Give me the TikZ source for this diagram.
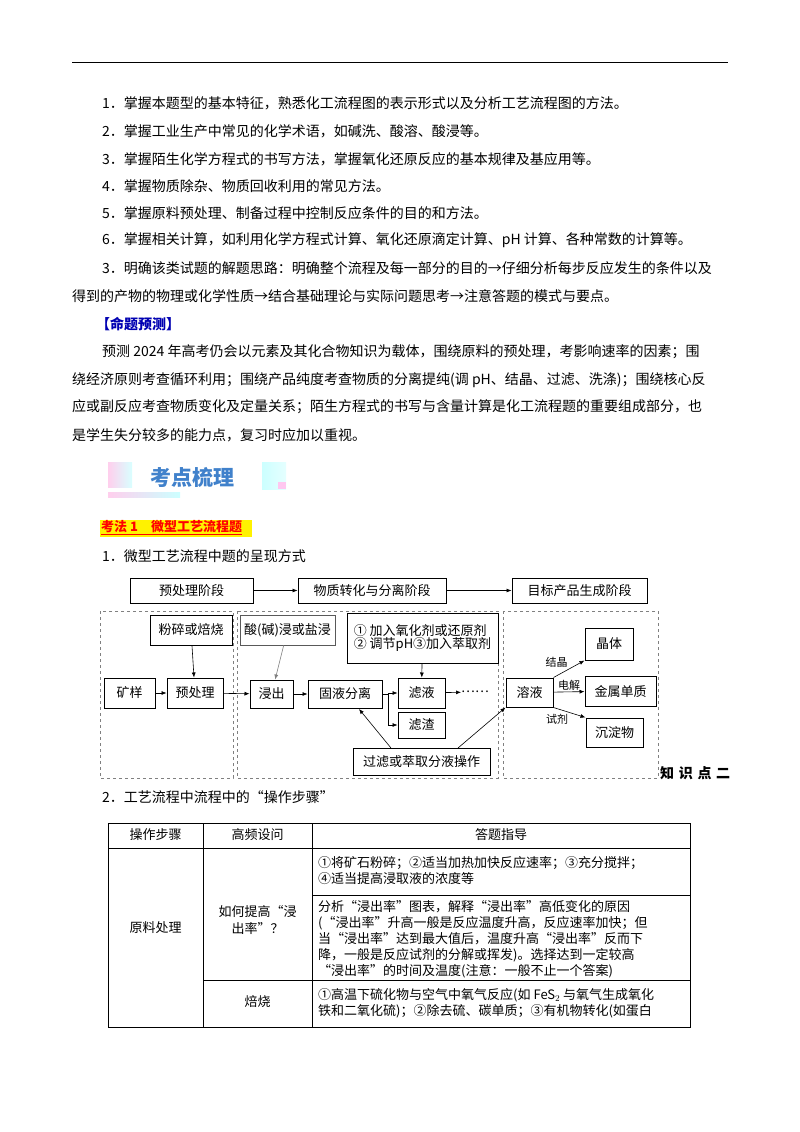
\documentclass[tikz,border=0pt]{standalone}
\usepackage{fontspec}
\setmainfont{Noto Sans CJK SC}
\usetikzlibrary{arrows.meta,calc}
\begin{document}
\begin{tikzpicture}[x=1pt,y=-1pt,
  txt/.style={anchor=west,inner sep=0,font=\fontsize{14}{14}\selectfont},
  bx/.style={draw,line width=1pt,inner sep=0,font=\fontsize{13}{13}\selectfont},
  dbox/.style={draw=gray,dashed,line width=0.9pt},
  arr/.style={-{Latex[length=5pt,width=4pt]},line width=0.6pt},
  cell/.style={anchor=west,inner sep=0,font=\fontsize{13}{16}\selectfont,align=left}]
\useasboundingbox (0,0) rectangle (800,1132);
\fill[white] (0,0) rectangle (800,1132);
\draw[line width=1pt] (72,63) -- (728,63);
\node[txt] (l1) at (102,103) {1．掌握本题型的基本特征，熟悉化工流程图的表示形式以及分析工艺流程图的方法。};
\node[txt] (l2) at (102,131) {2．掌握工业生产中常见的化学术语，如碱洗、酸溶、酸浸等。};
\node[txt] (l3) at (102,159) {3．掌握陌生化学方程式的书写方法，掌握氧化还原反应的基本规律及基应用等。};
\node[txt] (l4) at (102,186) {4．掌握物质除杂、物质回收利用的常见方法。};
\node[txt] (l5) at (102,213) {5．掌握原料预处理、制备过程中控制反应条件的目的和方法。};
\node[txt] (l6) at (102,240) {6．掌握相关计算，如利用化学方程式计算、氧化还原滴定计算、pH 计算、各种常数的计算等。};
\node[txt] (l7) at (102,268) {3．明确该类试题的解题思路：明确整个流程及每一部分的目的→仔细分析每步反应发生的条件以及};
\node[txt] (l8) at (72,296) {得到的产物的物理或化学性质→结合基础理论与实际问题思考→注意答题的模式与要点。};
\node[txt,text=blue!70!black,font=\fontsize{14}{14}\selectfont\bfseries] (p0) at (96,324) {【命题预测】};
\node[txt] (p1) at (102,352) {预测 2024 年高考仍会以元素及其化合物知识为载体，围绕原料的预处理，考影响速率的因素；围};
\node[txt] (p2) at (72,380) {绕经济原则考查循环利用；围绕产品纯度考查物质的分离提纯(调 pH、结晶、过滤、洗涤)；围绕核心反};
\node[txt] (p3) at (72,407) {应或副反应考查物质变化及定量关系；陌生方程式的书写与含量计算是化工流程题的重要组成部分，也};
\node[txt] (p4) at (72,435) {是学生失分较多的能力点，复习时应加以重视。};
% banner
\shade[left color=pink!70!magenta!40,right color=cyan!15] (108,462) rectangle (132,487);
\shade[left color=pink!70!magenta!40,right color=cyan!20] (108,492) rectangle (180,497);
\shade[left color=cyan!20,right color=cyan!10] (262,462) rectangle (286,489);
\fill[pink!60!magenta!40] (278,482) rectangle (286,489);
\node[txt,text=cyan!50!blue!80,font=\fontsize{21}{21}\selectfont\bfseries] (ban) at (150,477) {考点梳理};
\fill[yellow] (100,520) rectangle (252,537);
\node[txt,text=red,font=\fontsize{13}{13}\selectfont\bfseries] (kf) at (101,528) {\underline{考法 1\quad 微型工艺流程题}};
\node[txt] (s1) at (102,556) {1．微型工艺流程中题的呈现方式};
% flowchart
\node[bx,minimum width=123,minimum height=25] (a1) at (191.5,590.5) {预处理阶段};
\node[bx,minimum width=148,minimum height=25] (a2) at (372,590.5) {物质转化与分离阶段};
\node[bx,minimum width=135,minimum height=25] (a3) at (579.5,590.5) {目标产品生成阶段};
\draw[arr] (a1) -- (a2); \draw[arr] (a2) -- (a3);
\draw[dbox] (100,611) rectangle (233,778);
\draw[dbox] (237,611) rectangle (498,778);
\draw[dbox] (503,611) rectangle (658,778);
\node[bx,minimum width=82,minimum height=30] (b1) at (191,630) {粉碎或焙烧};
\node[bx,minimum width=51,minimum height=30] (b2) at (129.5,693) {矿样};
\node[bx,minimum width=56,minimum height=30] (b3) at (195,693) {预处理};
\node[bx,line width=0.6pt,draw=gray!70!black,minimum width=95,minimum height=30] (c1) at (287.5,630) {酸(碱)浸或盐浸};
\node[bx,minimum width=151,minimum height=50,align=left] (c2) at (422.5,638) {① 加入氧化剂或还原剂\\② 调节pH③加入萃取剂};
\node[bx,minimum width=43,minimum height=28] (c3) at (271.5,694) {浸出};
\node[bx,minimum width=74,minimum height=28] (c4) at (345,694) {固液分离};
\node[bx,minimum width=47,minimum height=30] (c5) at (421.5,693) {滤液};
\node[bx,minimum width=47,minimum height=26] (c6) at (421.5,725) {滤渣};
\node[inner sep=0,font=\fontsize{13}{13}\selectfont] (dots) at (475,692) {……};
\node[bx,minimum width=137,minimum height=27] (c7) at (421.5,761.5) {过滤或萃取分液操作};
\node[bx,minimum width=47,minimum height=29] (d1) at (529.5,692.5) {溶液};
\node[bx,minimum width=48,minimum height=32] (d2) at (609,644) {晶体};
\node[bx,minimum width=71,minimum height=30] (d3) at (620.5,691) {金属单质};
\node[bx,minimum width=57,minimum height=29] (d4) at (614.5,732.5) {沉淀物};
\node[anchor=west,inner sep=0,font=\fontsize{14}{14}\selectfont\bfseries] (zs) at (660,773) {知\,\,识\,\,点\,\,二};
\draw[arr] (b1) -- (b3);
\draw[arr] (b2) -- (b3);
\draw[arr] (b3) -- (c3);
\draw[arr,draw=gray] (c1) -- (c3);
\draw[arr] (c3) -- (c4);
\draw[arr] (c2) -- (c5);
\coordinate (br) at (388,694);
\draw[line width=0.6pt] (c4) -- (br) -- (388,725);
\draw[arr] (388,693) -- (c5.west);
\draw[arr] (388,725) -- (c6);
\draw[arr] (c5) -- (dots);
\coordinate (u1) at (391,748);
\coordinate (u2) at (458,748);
\draw[arr] (u1) -- (359,709);
\draw[arr] (u2) -- (d1.south west);
\draw[arr] (d1.north east) -- node[above left,inner sep=1pt,font=\fontsize{11}{11}\selectfont] {结晶} (d2.south west);
\draw[arr] (d1) -- node[above,inner sep=1pt,font=\fontsize{11}{11}\selectfont] {电解} (d3);
\draw[arr] (d1.south east) -- node[below left,inner sep=1pt,font=\fontsize{11}{11}\selectfont] {试剂} (d4.north west);
\node[txt] (s2) at (102,797) {2．工艺流程中流程中的“操作步骤”};
% table
\draw[line width=0.8pt] (108,823) rectangle (690,1027);
\draw[line width=0.8pt] (108,848) -- (690,848);
\draw[line width=0.8pt] (203,823) -- (203,1027);
\draw[line width=0.8pt] (312,823) -- (312,1027);
\draw[line width=0.8pt] (312,895) -- (690,895);
\draw[line width=0.8pt] (203,980) -- (690,980);
\node[inner sep=0,font=\fontsize{13}{13}\selectfont] (h1) at (155.5,835) {操作步骤};
\node[inner sep=0,font=\fontsize{13}{13}\selectfont] (h2) at (257.5,835) {高频设问};
\node[inner sep=0,font=\fontsize{13}{13}\selectfont] (h3) at (501,835) {答题指导};
\node[inner sep=0,font=\fontsize{13}{13}\selectfont] (r1) at (155.5,928) {原料处理};
\node[inner sep=0,font=\fontsize{13}{17}\selectfont,align=center] (r2) at (257.5,920) {如何提高“浸\\出率”？};
\node[inner sep=0,font=\fontsize{13}{13}\selectfont] (r3) at (257.5,1002) {焙烧};
\node[cell] (t1) at (318,871) {①将矿石粉碎；②适当加热加快反应速率；③充分搅拌；\\④适当提高浸取液的浓度等};
\node[cell] (t2) at (318,939) {分析“浸出率”图表，解释“浸出率”高低变化的原因\\(“浸出率”升高一般是反应温度升高，反应速率加快；但\\当“浸出率”达到最大值后，温度升高“浸出率”反而下\\降，一般是反应试剂的分解或挥发)。选择达到一定较高\\“浸出率”的时间及温度(注意：一般不止一个答案)};
\node[cell] (t3) at (318,1003) {①高温下硫化物与空气中氧气反应(如 FeS$_2$ 与氧气生成氧化\\铁和二氧化硫)；②除去硫、碳单质；③有机物转化(如蛋白};
\end{tikzpicture}
\end{document}
